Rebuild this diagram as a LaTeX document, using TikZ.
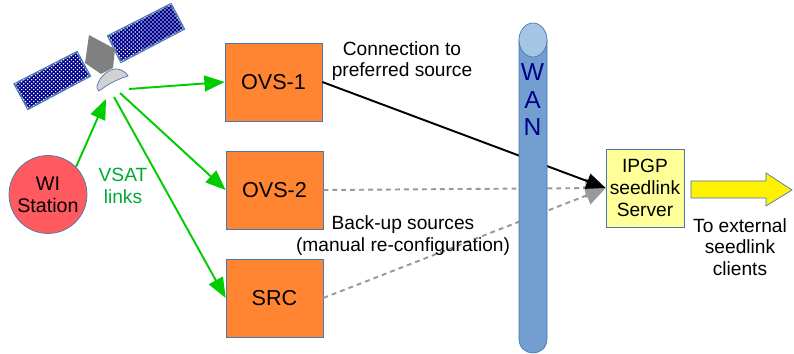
\documentclass[tikz,border=0pt]{standalone}
\usepackage{fontspec}
\setmainfont{Liberation Sans}
\usetikzlibrary{arrows.meta, patterns.meta}
\definecolor{boxline}{HTML}{4A76B0}
\definecolor{boxorange}{HTML}{FF8533}
\definecolor{boxyellow}{HTML}{FFFF99}
\definecolor{stationred}{HTML}{FF5A5F}
\definecolor{wanblue}{HTML}{729FCF}
\definecolor{wanlight}{HTML}{A6C5E5}
\definecolor{vsatgreen}{HTML}{00CC00}
\definecolor{vsattext}{HTML}{00A933}
\definecolor{backupgray}{HTML}{999999}
\definecolor{navyblue}{HTML}{00008B}
\tikzset{
    every node/.style={font=\fontsize{10.9}{12.4}\selectfont, align=center},
    source/.style={rectangle, minimum width=1.94cm, minimum height=1.56cm, draw=boxline, fill=boxorange, font=\fontsize{12.3}{14}\selectfont},
    server/.style={rectangle, minimum width=1.56cm, minimum height=1.56cm, inner sep=0pt, draw=boxline, fill=boxyellow},
    station/.style={circle, minimum size=1.56cm, inner sep=0pt, draw=boxline, fill=stationred, font=\fontsize{11.2}{12.4}\selectfont},
    vsat/.style={draw=vsatgreen, line width=1.1pt, -{Triangle[length=11.5pt,width=9pt]}},
    preferred/.style={draw=black, line width=1.1pt, -{Triangle[length=11pt,width=9pt]}},
    backup/.style={draw=backupgray, line width=1.1pt, dash pattern=on 2.8pt off 2.3pt, -{Triangle[length=11.5pt,width=11pt]}},
    panel/.style={draw=boxline, line width=1.1pt, fill=navyblue, postaction={pattern={Dots[distance=1.6pt, radius=0.5pt, angle=45]}, pattern color=white}},
    wanletter/.style={text=navyblue, font=\fontsize{14}{16}\selectfont},
}
\begin{document}
\begin{tikzpicture}[x=0.02cm, y=-0.02cm]
    \useasboundingbox (0,0) rectangle (794,354);

    \node[source] (ovs1) at (273.5,82) {OVS-1};
    \node[source] (ovs2) at (274.5,190) {OVS-2};
    \node[source] (src) at (274.5,298) {SRC};
    \node[server] (ipgp) at (645,188) {IPGP\\seedlink\\Server};
    \node[station] (wi) at (48,194.5) {WI\\Station};

    \coordinate (satout1) at (129,89);
    \coordinate (satout2) at (120,93);
    \coordinate (satout3) at (114,97);
    \coordinate (satin) at (106,99);
    \coordinate (wiout) at (76,167);

    \draw[vsat] (satout1) -- (ovs1.west);
    \draw[vsat] (satout2) -- (ovs2.west);
    \draw[vsat] (satout3) -- (src.west);
    \draw[vsat] (wiout) -- (satin);

    \draw[backup] (ovs2.east) -- (ipgp.west);
    \draw[backup] (src.east) -- (ipgp.west);
    \draw[preferred] (ovs1.east) -- (ipgp.west);

    \draw[draw=boxline, fill=wanblue] (519,40) -- (519,339)
        .. controls (519,348) and (526,353) .. (533,353)
        .. controls (540,353) and (547,348) .. (547,339) -- (547,40) -- cycle;
    \draw[draw=boxline, fill=wanlight] (533,23)
        .. controls (541,23) and (547,31) .. (547,40)
        .. controls (547,49) and (541,57) .. (533,57)
        .. controls (525,57) and (519,49) .. (519,40)
        .. controls (519,31) and (525,23) .. (533,23) -- cycle;
    \node[wanletter] (w) at (532.5,72.5) {W};
    \node[wanletter] (a) at (532.5,100) {A};
    \node[wanletter] (n) at (532.5,127) {N};

    \draw[panel] (14.5,84) -- (77,52) -- (90,76) -- (28,109) -- cycle;
    \draw[panel] (108,36) -- (171,4) -- (184,29) -- (121,62) -- cycle;
    \fill[gray] (89,35) -- (115,49) -- (113,68) -- (101,74) -- (85,63) -- cycle;
    \draw[draw=boxline, fill=gray!35] (97,86)
        .. controls (100,75) and (110,69) .. (116,69)
        .. controls (121,69) and (126,72) .. (128,76)
        .. controls (115,80) and (107,85) .. (99,91)
        .. controls (97,90) and (97,88) .. (97,86) -- cycle;

    \draw[draw=boxline, fill=yellow] (691,181) -- (766,181) -- (766,173) -- (792,190)
        -- (766,206) -- (766,198) -- (691,198) -- cycle;

    \node[text=vsattext] (vsatlabel) at (123,186) {VSAT\\links};
    \node (preflabel) at (402,61) {Connection to\\preferred source};
    \node (backuplabel) at (403,235.5) {Back-up sources\\(manual re-configuration)};
    \node (extlabel) at (740,247) {To external\\seedlink\\clients};
\end{tikzpicture}
\end{document}
